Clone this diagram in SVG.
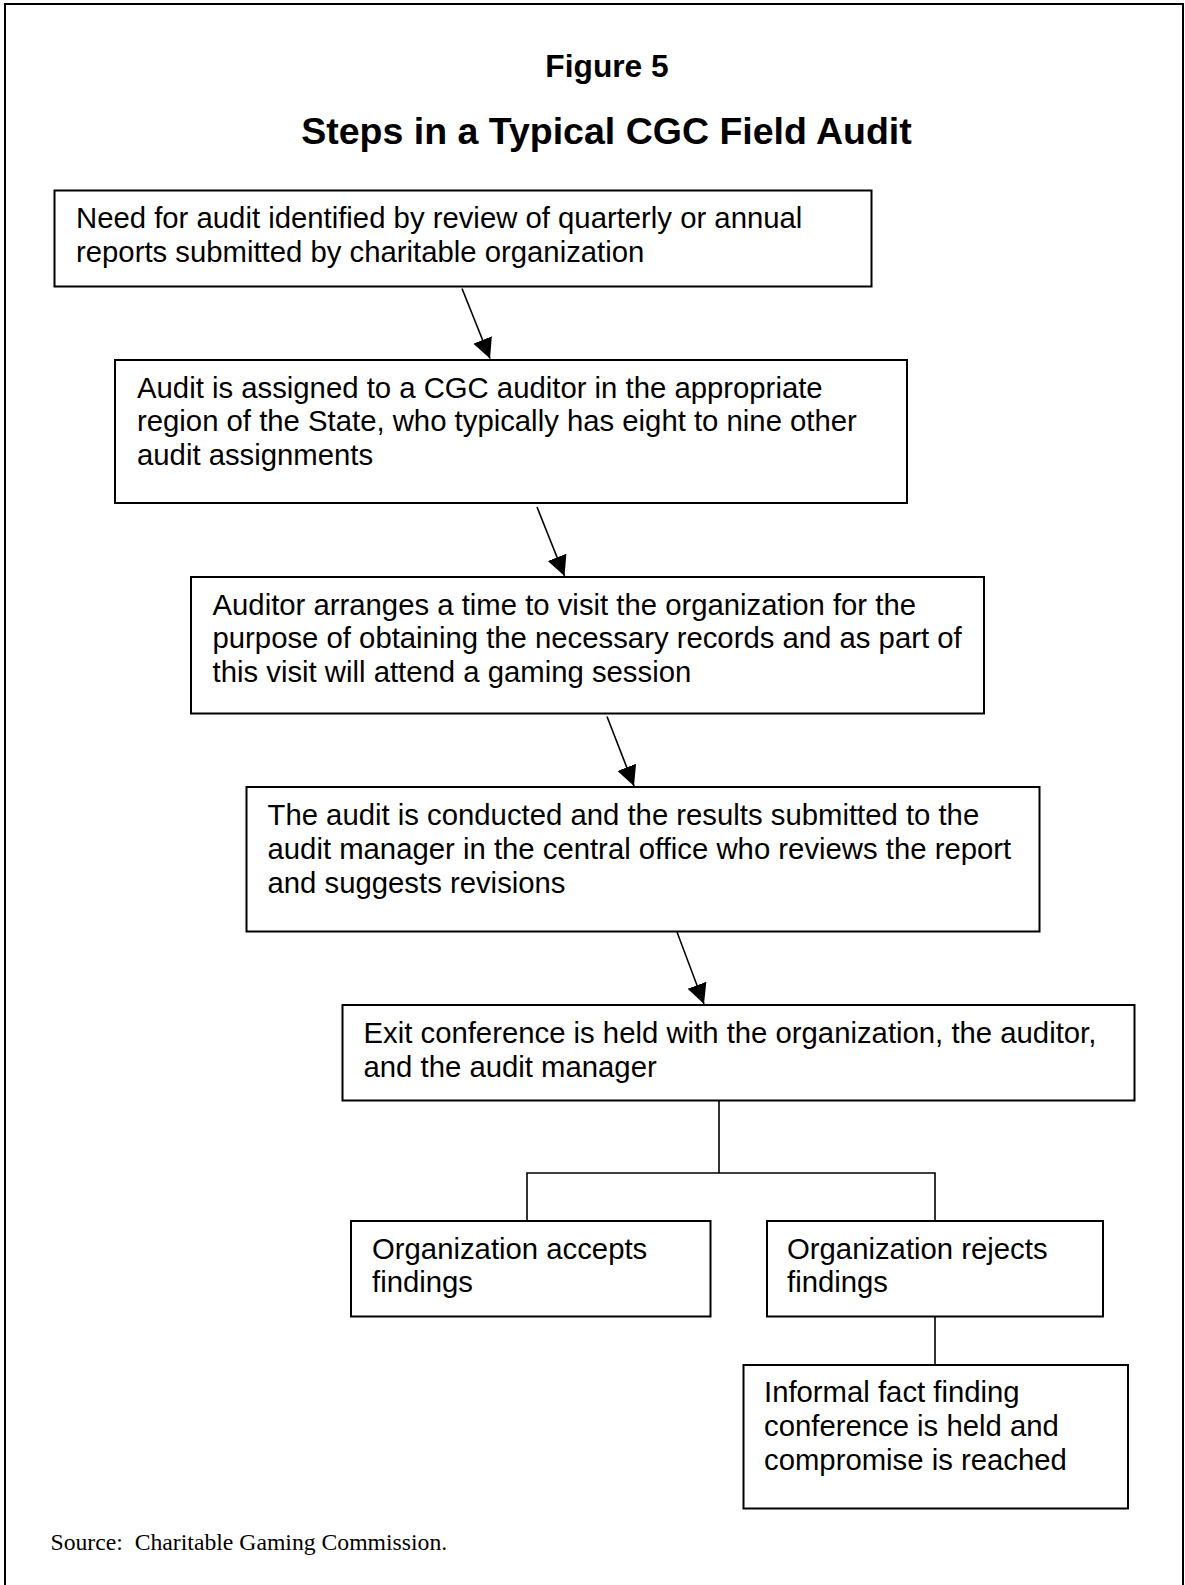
<svg xmlns="http://www.w3.org/2000/svg" width="1185" height="1585" viewBox="0 0 1185 1585">
<style>
  .box { fill: #fff; stroke: #000; stroke-width: 2; }
  .t { font-family: "Liberation Sans", Arial, sans-serif; font-size: 29.3px; fill: #000; }
  .conn { fill: none; stroke: #000; stroke-width: 1.6; }
  .title { font-family: "Liberation Sans", Arial, sans-serif; font-weight: bold; fill: #000; text-anchor: middle; }
  .src { font-family: "Liberation Serif", "Times New Roman", serif; font-size: 23.7px; fill: #000; white-space: pre; }
</style>
<defs>
  <marker id="ah" markerUnits="userSpaceOnUse" markerWidth="22" markerHeight="22" refX="20" refY="10" orient="auto">
    <path d="M0,0 L20,10 L0,20 z" fill="#000"/>
  </marker>
</defs>
<rect x="0" y="0" width="1185" height="1585" fill="#fff"/>
<rect x="5" y="4" width="1178" height="1620" fill="none" stroke="#000" stroke-width="2"/>

<g id="titles">
  <text class="title" x="607" y="76.5" font-size="31.7">Figure 5</text>
  <text class="title" x="606.5" y="143.5" font-size="37.5">Steps in a Typical CGC Field Audit</text>
</g>

<g id="connectors">
  <line class="conn" x1="462" y1="288.5" x2="490" y2="358.5" marker-end="url(#ah)"/>
  <line class="conn" x1="537" y1="507" x2="564.5" y2="576" marker-end="url(#ah)"/>
  <line class="conn" x1="607" y1="716.5" x2="634" y2="786" marker-end="url(#ah)"/>
  <line class="conn" x1="677" y1="932" x2="704" y2="1004" marker-end="url(#ah)"/>
  <polyline class="conn" points="719,1100 719,1173"/>
  <polyline class="conn" points="527,1221 527,1173 935,1173 935,1221"/>
  <polyline class="conn" points="935,1317 935,1365"/>
</g>

<g id="n1">
  <rect class="box" x="54.5" y="190.5" width="817" height="96"/>
  <text class="t" x="76" y="228.3">Need for audit identified by review of quarterly or annual</text>
  <text class="t" x="76" y="262">reports submitted by charitable organization</text>
</g>
<g id="n2">
  <rect class="box" x="115" y="360" width="792" height="143"/>
  <text class="t" x="137" y="397.5">Audit is assigned to a CGC auditor in the appropriate</text>
  <text class="t" x="137" y="431.3">region of the State, who typically has eight to nine other</text>
  <text class="t" x="137" y="465.1">audit assignments</text>
</g>
<g id="n3">
  <rect class="box" x="191" y="577" width="793" height="136.5"/>
  <text class="t" x="212.5" y="614.5">Auditor arranges a time to visit the organization for the</text>
  <text class="t" x="212.5" y="648.3">purpose of obtaining the necessary records and as part of</text>
  <text class="t" x="212.5" y="682.1">this visit will attend a gaming session</text>
</g>
<g id="n4">
  <rect class="box" x="246.5" y="787" width="793" height="144.5"/>
  <text class="t" x="267.5" y="825">The audit is conducted and the results submitted to the</text>
  <text class="t" x="267.5" y="858.8">audit manager in the central office who reviews the report</text>
  <text class="t" x="267.5" y="892.6">and suggests revisions</text>
</g>
<g id="n5">
  <rect class="box" x="342.5" y="1005" width="792" height="95.5"/>
  <text class="t" x="363.5" y="1043">Exit conference is held with the organization, the auditor,</text>
  <text class="t" x="363.5" y="1076.8">and the audit manager</text>
</g>
<g id="n6">
  <rect class="box" x="351" y="1221" width="359.5" height="95.5"/>
  <text class="t" x="372" y="1258.5">Organization accepts</text>
  <text class="t" x="372" y="1292.3">findings</text>
</g>
<g id="n7">
  <rect class="box" x="767" y="1221" width="336" height="95.5"/>
  <text class="t" x="787" y="1258.5">Organization rejects</text>
  <text class="t" x="787" y="1292.3">findings</text>
</g>
<g id="n8">
  <rect class="box" x="743.5" y="1365" width="384.5" height="143.5"/>
  <text class="t" x="764" y="1402">Informal fact finding</text>
  <text class="t" x="764" y="1435.8">conference is held and</text>
  <text class="t" x="764" y="1469.6">compromise is reached</text>
</g>

<g id="source">
  <text class="src" x="50.5" y="1549.5">Source:  Charitable Gaming Commission.</text>
</g>
</svg>
